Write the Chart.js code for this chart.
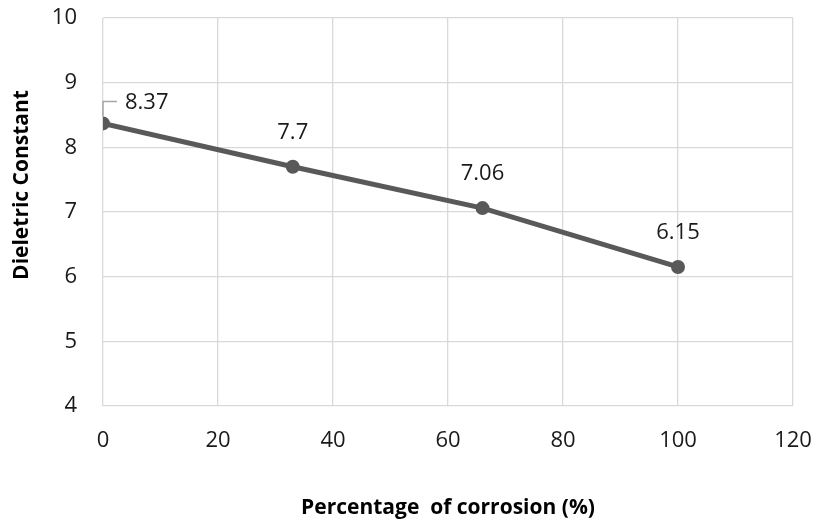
<!DOCTYPE html>
<html>
<head>
<meta charset="utf-8">
<script src="https://cdn.jsdelivr.net/npm/chart.js@4"></script>
<style>
  body { margin: 0; background: #fff; }
</style>
</head>
<body>
<canvas id="chart" width="817" height="527"></canvas>
<script>
// Chart data
const corrosion = [0, 33, 66, 100]
const dielectric = [8.37, 7.7, 7.06, 6.15]
const xTicks = [0, 20, 40, 60, 80, 100, 120]
const yTicks = [4, 5, 6, 7, 8, 9, 10]

const points = corrosion.map((x, i) => ({ x: x, y: dielectric[i] }))

// Value labels above points, first one with a leader line like Excel
const valueLabels = {
    id: 'valueLabels',
    afterDatasetsDraw(chart) {
        const ctx = chart.ctx
        const meta = chart.getDatasetMeta(0)
        ctx.save()
        ctx.font = '22px "Open Sans"'
        ctx.fillStyle = '#1a1a1a'
        ctx.textBaseline = 'middle'
        meta.data.forEach((pt, i) => {
            const txt = String(dielectric[i])
            if (i === 0) {
                ctx.strokeStyle = '#a6a6a6'
                ctx.lineWidth = 1.5
                ctx.beginPath()
                ctx.moveTo(pt.x, pt.y - 7)
                ctx.lineTo(pt.x, pt.y - 22)
                ctx.lineTo(pt.x + 14, pt.y - 22)
                ctx.stroke()
                ctx.textAlign = 'left'
                ctx.fillText(txt, pt.x + 22, pt.y - 21)
            } else {
                ctx.textAlign = 'center'
                ctx.fillText(txt, pt.x, pt.y - 34)
            }
        })
        ctx.restore()
    }
}

// Y axis title sits above the plot centre in the original
const yTitle = {
    id: 'yTitle',
    afterDraw(chart) {
        const ctx = chart.ctx
        ctx.save()
        ctx.translate(22, 185)
        ctx.rotate(-Math.PI / 2)
        ctx.font = 'bold 21px "Open Sans"'
        ctx.fillStyle = '#000'
        ctx.textAlign = 'center'
        ctx.textBaseline = 'middle'
        ctx.fillText('Dieletric Constant', 0, 0)
        ctx.restore()
    }
}

new Chart(document.getElementById('chart'), {
    type: 'line',
    data: {
        datasets: [{
            data: points,
            borderColor: '#595959',
            backgroundColor: '#595959',
            borderWidth: 5,
            pointRadius: 6,
            pointBorderWidth: 2,
            pointBorderColor: '#595959',
            tension: 0
        }]
    },
    options: {
        responsive: false,
        animation: false,
        layout: { padding: { top: 18, right: 24, left: 0, bottom: 0 } },
        plugins: {
            legend: { display: false },
            tooltip: { enabled: false }
        },
        scales: {
            x: {
                type: 'linear',
                min: 0,
                max: 120,
                afterBuildTicks: s => { s.ticks = xTicks.map(v => ({ value: v })) },
                afterFit: s => {
                    s.height = 121
                    s.paddingLeft = 0
                    s.paddingRight = 0
                },
                grid: { color: '#d9d9d9', lineWidth: 1.3, drawTicks: false },
                border: { display: false },
                ticks: {
                    padding: 22,
                    maxRotation: 0,
                    color: '#1a1a1a',
                    font: { family: 'Open Sans', size: 22 }
                },
                title: {
                    display: true,
                    text: 'Percentage  of corrosion (%)',
                    color: '#000',
                    font: { family: 'Open Sans', size: 21, weight: 'bold' },
                    padding: { top: 0, bottom: 6 }
                }
            },
            y: {
                min: 4,
                max: 10,
                afterBuildTicks: s => { s.ticks = yTicks.map(v => ({ value: v })) },
                afterFit: s => {
                    s.width = 103
                    s.paddingTop = 0
                    s.paddingBottom = 0
                },
                grid: { color: '#d9d9d9', lineWidth: 1.3, drawTicks: false },
                border: { display: false },
                ticks: {
                    padding: 26,
                    color: '#1a1a1a',
                    font: { family: 'Open Sans', size: 22 }
                }
            }
        }
    },
    plugins: [valueLabels, yTitle]
})
</script>
</body>
</html>
